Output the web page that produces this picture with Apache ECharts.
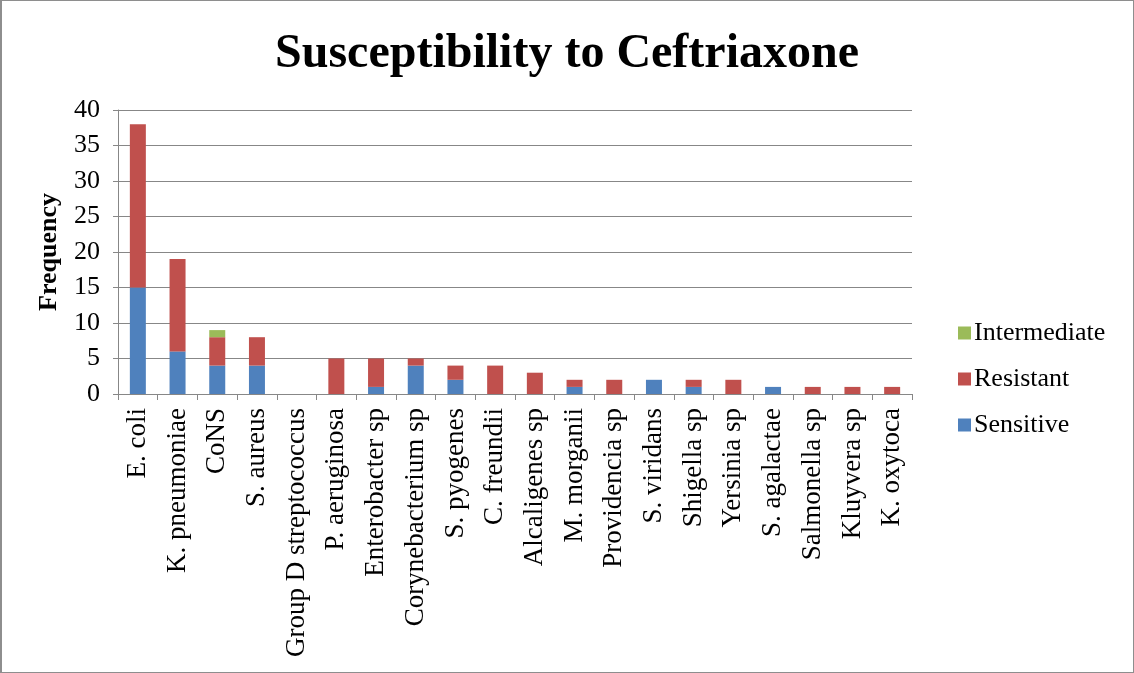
<!DOCTYPE html>
<html>
<head>
<meta charset="utf-8">
<script src="https://cdn.jsdelivr.net/npm/echarts@6/dist/echarts.min.js"></script>
<style>
  html, body { margin: 0; padding: 0; background: #fff; }
  #wrap { position: relative; width: 1134px; height: 673px; }
  #chart { position: absolute; left: 0; top: 0; width: 1134px; height: 673px; }
  #frame { position: absolute; left: 0; top: 0; width: 1134px; height: 673px; box-sizing: border-box;
           border: 1px solid #8e8e8e; border-left-width: 2px; pointer-events: none; }
</style>
</head>
<body>
<div id="wrap">
  <div id="chart"></div>
  <div id="frame"></div>
</div>
<script>
// Organisms tested
const organisms = [
  'E. coli', 'K. pneumoniae', 'CoNS', 'S. aureus', 'Group D streptococcus',
  'P. aeruginosa', 'Enterobacter sp', 'Corynebacterium sp', 'S. pyogenes', 'C. freundii',
  'Alcaligenes sp', 'M. morganii', 'Providencia sp', 'S. viridans', 'Shigella sp',
  'Yersinia sp', 'S. agalactae', 'Salmonella sp', 'Kluyvera sp', 'K. oxytoca'
];

// Counts per susceptibility class
const sensitive    = [15, 6, 4, 4, 0, 0, 1, 4, 2, 0, 0, 1, 0, 2, 1, 0, 1, 0, 0, 0];
const resistant    = [23, 13, 4, 4, 0, 5, 4, 1, 2, 4, 3, 1, 2, 0, 1, 2, 0, 1, 1, 1];
const intermediate = [0, 0, 1, 0, 0, 0, 0, 0, 0, 0, 0, 0, 0, 0, 0, 0, 0, 0, 0, 0];

const yTicks = { min: 0, max: 40, interval: 5 };

const FONT = '"Liberation Serif", "Times New Roman", serif';
const GRID_GRAY = '#878787';

const chart = echarts.init(document.getElementById('chart'), null, { renderer: 'canvas' });

function barSeries(name, data, color) {
  return {
    name: name,
    type: 'bar',
    stack: 'total',
    data: data,
    barWidth: 16,
    itemStyle: { color: color },
    emphasis: { disabled: true }
  };
}

chart.setOption({
  animation: false,
  backgroundColor: '#ffffff',
  title: {
    text: 'Susceptibility to Ceftriaxone',
    left: 'center',
    top: 26,
    textStyle: { fontFamily: FONT, fontSize: 48, fontWeight: 'bold', color: '#000' }
  },
  legend: {
    orient: 'vertical',
    left: 953,
    top: 315,
    itemWidth: 13,
    itemHeight: 13,
    itemGap: 20,
    icon: 'rect',
    data: ['Intermediate', 'Resistant', 'Sensitive'],
    textStyle: { fontFamily: FONT, fontSize: 26, color: '#000', padding: [0, 0, 0, -2] }
  },
  grid: { left: 118, right: 222, top: 110, bottom: 279, containLabel: false },
  xAxis: {
    type: 'category',
    data: organisms,
    axisLine: { show: true, lineStyle: { color: GRID_GRAY, width: 1 } },
    axisTick: { show: true, length: 6, lineStyle: { color: GRID_GRAY } },
    axisLabel: {
      interval: 0,
      rotate: 90,
      margin: 14,
      fontFamily: FONT,
      fontSize: 27,
      color: '#000'
    }
  },
  yAxis: {
    type: 'value',
    min: yTicks.min,
    max: yTicks.max,
    interval: yTicks.interval,
    name: 'Frequency',
    nameLocation: 'middle',
    nameGap: 56,
    nameRotate: 90,
    nameTextStyle: { fontFamily: FONT, fontSize: 26, fontWeight: 'bold', color: '#000' },
    axisLine: { show: true, lineStyle: { color: GRID_GRAY, width: 1 } },
    axisTick: { show: true, length: 5, lineStyle: { color: GRID_GRAY } },
    axisLabel: { margin: 18, fontFamily: FONT, fontSize: 26, color: '#000' },
    splitLine: { show: true, lineStyle: { color: GRID_GRAY, width: 1 } }
  },
  series: [
    barSeries('Sensitive', sensitive, '#4F81BD'),
    barSeries('Resistant', resistant, '#C0504D'),
    barSeries('Intermediate', intermediate, '#9BBB59')
  ]
});
</script>
</body>
</html>
